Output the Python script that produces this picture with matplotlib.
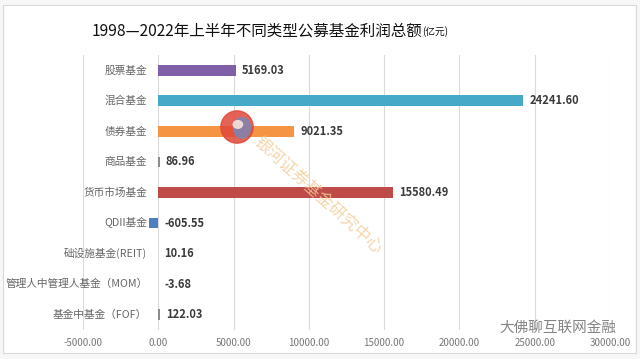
import matplotlib
matplotlib.use("Agg")
import matplotlib.pyplot as plt
from matplotlib.patches import Rectangle, Circle, Ellipse
from matplotlib.transforms import offset_copy

plt.rcParams['font.family'] = ['Noto Sans CJK SC', 'DejaVu Sans']

categories = ["股票基金", "混合基金", "债券基金", "商品基金", "货币市场基金",
              "QDII基金", "础设施基金(REIT)", "管理人中管理人基金（MOM）", "基金中基金（FOF）"]
values = [5169.03, 24241.60, 9021.35, 86.96, 15580.49, -605.55, 10.16, -3.68, 122.03]
value_labels = ["5169.03", "24241.60", "9021.35", "86.96", "15580.49", "-605.55", "10.16", "-3.68", "122.03"]
colors = ["#7E5FA8", "#47A9C8", "#F59443", "#8C8C8C", "#BE4B48", "#4F7FBF", "#8C8C8C", "#8C8C8C", "#8C8C8C"]
xticks = [-5000, 0, 5000, 10000, 15000, 20000, 25000, 30000]
xtick_labels = ["-5000.00", "0.00", "5000.00", "10000.00", "15000.00", "20000.00", "25000.00", "30000.00"]

W, H = 640, 359
fig = plt.figure(figsize=(W / 100, H / 100), dpi=100)
fig.patch.set_facecolor("#F7F7F7")
frame = Rectangle((3 / W, 1 - 353 / H), 633 / W, 348 / H, transform=fig.transFigure,
                  facecolor="white", edgecolor="#D9D9D9", linewidth=0.8, zorder=-10)
fig.patches.append(frame)

ax = fig.add_axes([83 / W, 1 - 330 / H, (610 - 83) / W, (330 - 55) / H], zorder=1)
ax.set_facecolor("none")
ypos = list(range(len(categories)))
ax.barh(ypos, values, height=0.35, color=colors, zorder=3)
ax.set_xlim(-5000, 30000)
ax.set_ylim(len(categories) - 0.5, -0.5)
ax.set_xticks(xticks)
ax.set_xticklabels(xtick_labels, fontsize=7, color="#777777")
ax.tick_params(axis="x", length=0, pad=6)
ax.set_yticks([])
for s in ax.spines.values():
    s.set_visible(False)
ax.grid(axis="x", color="#DADADA", linewidth=0.8, zorder=0)
ax.set_axisbelow(True)

for y, cat in zip(ypos, categories):
    t = offset_copy(ax.transData, fig=fig, x=-11, y=0, units="dots")
    ax.text(0, y, cat, transform=t, ha="right", va="center", fontsize=7.7, color="#666666")

for y, v, lab in zip(ypos, values, value_labels):
    t = offset_copy(ax.transData, fig=fig, x=6, y=0, units="dots")
    ax.text(max(v, 0), y, lab, transform=t, ha="left", va="center", fontsize=8,
            fontweight="bold", color="#3A3A3A")

# title
fig.text(92 / W, 1 - 31 / H, "1998—2022年上半年不同类型公募基金利润总额", fontsize=11.2,
         ha="left", va="center", color="#111111")
fig.text(422 / W, 1 - 32 / H, "(亿元)", fontsize=7, ha="left", va="center", color="#111111")

# watermarks
lg = fig.add_axes([220 / W, 1 - 144 / H, 34 / W, 34 / H], zorder=2)
lg.set_xlim(-1, 1); lg.set_ylim(-1, 1); lg.axis("off")
lg.add_patch(Circle((0, 0), 0.95, color="#E0483A", alpha=0.85))
lg.add_patch(Ellipse((0.3, -0.05), 1.0, 1.2, color="#7C86B5", alpha=0.85))
lg.add_patch(Ellipse((0.05, 0.15), 0.55, 0.45, color="#F6E1DA", alpha=0.9))

fig.text(318 / W, 1 - 195 / H, "银河证券基金研究中心", fontsize=12, rotation=-42,
         rotation_mode="anchor", ha="center", va="center", color="#F2CC98", alpha=0.8, zorder=4)
fig.text(558 / W, 1 - 328 / H, "大佛聊互联网金融", fontsize=10.5, ha="center", va="center",
         color="#6F6F6F", alpha=0.85, zorder=4)

fig.savefig("out.png", dpi=100, facecolor=fig.get_facecolor())
